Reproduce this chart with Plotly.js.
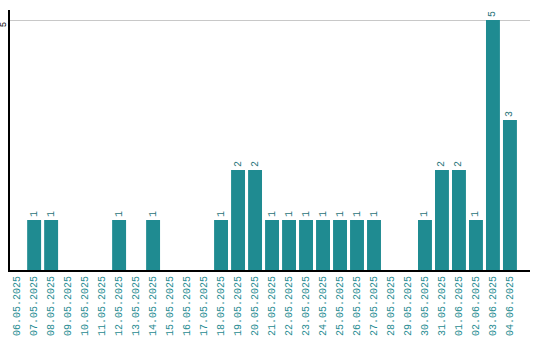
<!DOCTYPE html>
<html>
<head>
<meta charset="utf-8">
<script src="https://cdn.plot.ly/plotly-3.0.1.min.js"></script>
<style>html,body{margin:0;padding:0;background:#fff;}#chart{width:540px;height:340px;}</style>
</head>
<body>
<div id="chart"></div>
<script>
const dates = ["06.05.2025","07.05.2025","08.05.2025","09.05.2025","10.05.2025","11.05.2025","12.05.2025","13.05.2025","14.05.2025","15.05.2025","16.05.2025","17.05.2025","18.05.2025","19.05.2025","20.05.2025","21.05.2025","22.05.2025","23.05.2025","24.05.2025","25.05.2025","26.05.2025","27.05.2025","28.05.2025","29.05.2025","30.05.2025","31.05.2025","01.06.2025","02.06.2025","03.06.2025","04.06.2025"];
const counts = [0,1,1,0,0,0,1,0,1,0,0,0,1,2,2,1,1,1,1,1,1,1,0,0,1,2,2,1,5,3];
const yTicks = [5];

const labels = counts.map(v => v > 0 ? String(v) : "");
const font = "Liberation Mono, DejaVu Sans Mono, monospace";

Plotly.newPlot("chart", [{
  type: "bar",
  x: dates,
  y: counts,
  text: labels,
  textposition: "outside",
  textangle: -90,
  cliponaxis: false,
  textfont: {family: font, size: 10, color: "#2a7479"},
  marker: {color: "#1f8b91"},
  hoverinfo: "none"
}], {
  width: 540, height: 340,
  margin: {l: 10, r: 10, t: 10, b: 70},
  paper_bgcolor: "#fff", plot_bgcolor: "#fff",
  bargap: 0.18,
  showlegend: false,
  xaxis: {
    type: "category",
    range: [-0.42, 30.18],
    tickangle: -90,
    tickfont: {family: font, size: 10, color: "#1f8b91"},
    showline: true, linecolor: "#000", linewidth: 2,
    showgrid: false, ticks: "", zeroline: false,
    fixedrange: true
  },
  yaxis: {
    range: [0, 5.2],
    tickvals: yTicks,
    ticktext: yTicks.map(String),
    tickangle: -90,
    ticklabelstandoff: -2,
    ticklabelshift: 6,
    tickfont: {family: font, size: 9, color: "#000"},
    showline: true, linecolor: "#000", linewidth: 2,
    showgrid: true, gridcolor: "#c8c8c8", gridwidth: 1,
    zeroline: false, ticks: "",
    fixedrange: true
  }
}, {displayModeBar: false, staticPlot: true});
</script>
</body>
</html>
